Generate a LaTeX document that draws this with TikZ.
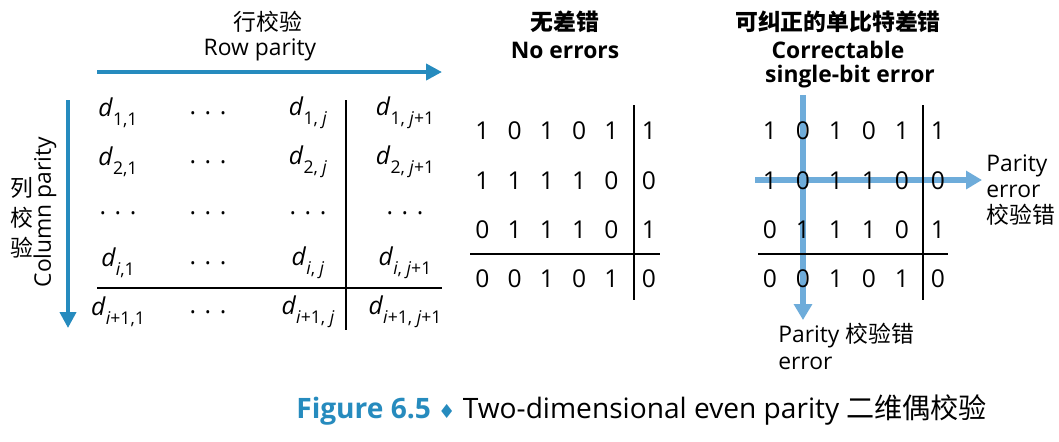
\documentclass[tikz,border=0pt]{standalone}
\usepackage{fontspec}
\setmainfont{Open Sans}
\newfontfamily\cjk{Noto Sans CJK SC}
\newfontfamily\symfont{DejaVu Sans}
\usetikzlibrary{arrows.meta}
\definecolor{pblue}{RGB}{38,139,190}
\definecolor{lblue}{RGB}{110,172,218}
\newcommand{\dsub}[1]{\textit{d}\raisebox{-0.35em}{\fontsize{10}{10}\selectfont #1}}
\tikzset{
  parr/.style={pblue, line width=2.2pt, -{Triangle[length=9pt,width=9pt]}},
  larr/.style={lblue, line width=3pt, -{Triangle[length=9pt,width=10pt]}},
  grid line/.style={black, line width=0.6pt},
  dig/.style={font=\fontsize{14}{14}\selectfont, inner sep=1pt},
  dent/.style={font=\fontsize{14}{14}\selectfont, inner sep=1pt},
  ttl/.style={font=\fontsize{13}{15}\selectfont\bfseries, inner sep=0pt},
  lbl/.style={font=\fontsize{13}{15}\selectfont, inner sep=0pt}
}
\begin{document}
\begin{tikzpicture}[x=0.02cm,y=-0.02cm]
\useasboundingbox (0,0) rectangle (1059,441);
% general layout
\node[lbl] (rowcn) at (268,22) {\cjk 行校验};
\node[lbl] (rowen) at (260,50) {Row parity};
\coordinate (rs) at (97,72); \coordinate (re) at (442,72);
\draw[parr] (rs) -- (re);
\coordinate (cs) at (68,100); \coordinate (ce) at (68,328);
\draw[parr] (cs) -- (ce);
\node[lbl] (col1) at (22,188) {\cjk 列};
\node[lbl] (col2) at (22,218) {\cjk 校};
\node[lbl] (col3) at (22,248) {\cjk 验};
\node[lbl, rotate=90] (colen) at (45,212) {Column parity};
\foreach \x/\a/\c [count=\r] in {113/1/1, 162/2/2, 263/{\textit{i}}/{\textit{i}}, 312/{\textit{i}+1}/{\textit{i}+1}}{
  \node[dent] (m\r a) at (118,\x) {\dsub{\a,1}};
  \node[dent] (m\r b) at (208,\x) {. . .};
  \node[dent] (m\r c) at (308,\x) {\dsub{\c, \textit{j}}};
  \node[dent] (m\r d) at (405,\x) {\dsub{\c, \textit{j}+1}};
}
\foreach \x [count=\k] in {118,208,308,405}
  \node[dent] (dots\k) at (\x,213) {. . .};
\coordinate (gv1) at (346,100); \coordinate (gv2) at (346,330);
\coordinate (gh1) at (97,288); \coordinate (gh2) at (442,288);
\draw[grid line] (gv1) -- (gv2);
\draw[grid line] (gh1) -- (gh2);
% no errors
\node[ttl] (ok1) at (565,22) {\cjk 无差错};
\node[ttl] (ok2) at (565,50) {No errors};
\foreach \row [count=\r] in {{1,0,1,0,1,1},{1,1,1,1,0,0},{0,1,1,1,0,1},{0,0,1,0,1,0}}
  \foreach \v [count=\c] in \row {
    \pgfmathsetmacro\px{ifthenelse(\c==6,649,450+32.3*\c)}
    \pgfmathsetmacro\py{131+49.3*(\r-1)}
    \node[dig] (a\r\c) at (\px,\py) {\v};
  }
\coordinate (av1) at (634,105); \coordinate (av2) at (634,300);
\coordinate (ah1) at (470,254); \coordinate (ah2) at (660,254);
\draw[grid line] (av1) -- (av2);
\draw[grid line] (ah1) -- (ah2);
% single-bit error
\node[ttl] (er1) at (838,22) {\cjk 可纠正的单比特差错};
\node[ttl] (er2) at (838,50) {Correctable};
\node[ttl] (er3) at (850,77) {single-bit error};
\coordinate (vs) at (803,95); \coordinate (ve) at (803,320);
\coordinate (hs) at (755,180); \coordinate (he) at (982,180);
\draw[larr] (vs) -- (ve);
\draw[larr] (hs) -- (he);
\foreach \row [count=\r] in {{1,0,1,0,1,1},{1,0,1,1,0,0},{0,1,1,1,0,1},{0,0,1,0,1,0}}
  \foreach \v [count=\c] in \row {
    \pgfmathsetmacro\px{ifthenelse(\c==6,938,737+33*\c)}
    \pgfmathsetmacro\py{131+49.3*(\r-1)}
    \node[dig] (b\r\c) at (\px,\py) {\v};
  }
\coordinate (bv1) at (923,105); \coordinate (bv2) at (923,300);
\coordinate (bh1) at (758,254); \coordinate (bh2) at (948,254);
\draw[grid line] (bv1) -- (bv2);
\draw[grid line] (bh1) -- (bh2);
\node[lbl, align=left, anchor=west] (pe1) at (986,190) {Parity\\error\\{\cjk 校验错}};
\node[lbl, align=left, anchor=north west] (pe2) at (778,323) {Parity {\cjk 校验错}\\error};
% caption
\node[anchor=west, inner sep=0pt, font=\fontsize{16}{16}\selectfont] (cap) at (296,410)
  {\textcolor{pblue}{\bfseries Figure 6.5} {\symfont\textcolor{pblue}{\fontsize{11}{11}\selectfont ♦}} Two-dimensional even parity {\cjk 二维偶校验}};
\end{tikzpicture}
\end{document}
